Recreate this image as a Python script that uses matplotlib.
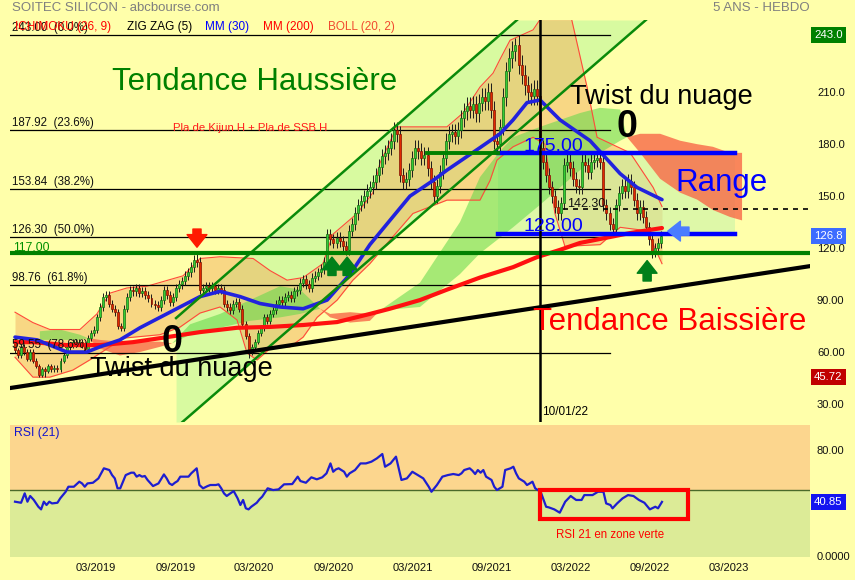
import numpy as np
import matplotlib
matplotlib.use('Agg')
import matplotlib.pyplot as plt
import matplotlib.dates as mdates
from matplotlib.patches import Rectangle
import datetime as dt

plt.rcParams['font.family'] = ['Liberation Sans', 'DejaVu Sans']

# ---------------- data (weekly, week 0 = 2018-09-17) ----------------
start_date = dt.date(2018, 9, 17)
first_open = 66.0
closes = [61, 58, 63, 60, 56, 60, 55, 52, 47, 50,
          49, 52, 50, 51, 50, 55, 58, 63, 64, 66,
          65, 66, 64, 62, 68, 71, 73, 80, 86, 92,
          93, 88, 85, 83, 75, 74, 85, 92, 96, 95,
          97, 94, 95, 93, 91, 88, 87, 86, 90, 96,
          93, 89, 92, 97, 99, 101, 104, 106, 109, 113,
          112, 96, 97, 98, 97, 98, 96, 97, 96, 88,
          86, 84, 88, 89, 85, 76, 69, 60, 63, 66,
          71, 74, 80, 78, 82, 84, 88, 90, 89, 92,
          93, 91, 95, 96, 100, 102, 99, 97, 103, 104,
          106, 108, 112, 128, 125, 123, 126, 124, 121, 119,
          130, 134, 140, 145, 147, 150, 153, 155, 158, 162,
          167, 173, 175, 178, 182, 188, 186, 162, 158, 160,
          165, 172, 178, 176, 172, 174, 166, 158, 150, 156,
          164, 172, 182, 186, 187, 185, 188, 195, 199, 202,
          200, 203, 198, 204, 207, 205, 210, 200, 182, 180,
          190, 207, 222, 230, 234, 237, 226, 220, 214, 210,
          208, 212, 208, 178, 170, 162, 155, 150, 144, 140,
          146, 168, 170, 166, 160, 156, 155, 170, 168, 164,
          170, 171, 172, 170, 145, 140, 134, 131, 145, 152,
          156, 153, 159, 155, 148, 140, 144, 138, 132, 125,
          118, 120, 123, 126.8]
extreme_weeks = [10, 60, 77, 165, 210]
extreme_prices = [45.72, 116.5, 56.5, 241.5, 114.0]

mm30_weeks = [0, 7.3, 11.5, 17.1, 23.7, 28.0, 34.6, 41.2, 47.8, 54.4, 61.0, 67.6,
              74.2, 80.8, 87.4, 95.0, 102.9, 110.5, 117.0, 123.6, 130.2, 137.8,
              142.4, 153.3, 159.9, 164.2, 168.8, 173.1, 179.7, 189.6, 199.5, 205.1, 213.3]
mm30_vals = [68.6, 67, 64, 60, 60, 63, 67, 74, 80, 86, 92, 95,
             92, 88, 86, 85, 90, 105, 122, 136, 150, 159,
             165, 178, 186, 194, 204, 205.5, 194, 182, 163, 155, 148]

mm200_weeks = [0, 5.9, 17.1, 28.0, 38.9, 50.1, 61.0, 73.2, 84.1, 95.0, 106.2, 117.0,
               123.6, 133.5, 142.4, 153.3, 164.2, 172.1, 179.7, 186.3, 202.8, 213.3]
mm200_vals = [65.7, 65.7, 64, 64, 65.7, 68.6, 71.5, 74, 74.5, 75.6, 77.3, 82,
              85, 90, 96, 103, 109, 114.8, 119, 123, 128.7, 131.6]

boll_up_weeks = [0, 5.9, 11.5, 21.4, 27.0, 31.3, 36.9, 43.5, 55.4, 61.0, 67.6, 78.5,
                 84.1, 89.7, 95.0, 101.5, 104.8, 112.8, 118.0, 120.3, 125.9, 142.4,
                 147.7, 153.3, 157.6, 159.9, 163.2, 170.8, 175.4, 183.0, 188.6, 191.9,
                 202.8, 210.4, 213.3]
boll_up_vals = [83, 77, 73, 73, 82, 94, 97, 98, 104, 114, 115, 114,
                107, 101.5, 103, 111, 128, 140, 152, 169, 190, 190,
                198, 213, 221, 229, 240, 246, 258, 256, 213, 184,
                175, 155, 144]
boll_lo_weeks = [0, 5.9, 11.5, 19.1, 24.7, 31.3, 35.6, 47.8, 54.4, 61.0, 67.6, 73.2,
                 76.5, 79.8, 84.1, 90.7, 95.0, 99.6, 106.2, 111.4, 117.0, 123.6,
                 131.2, 142.4, 153.3, 156.6, 158.9, 164.2, 170.8, 174.7, 178.0, 181.3,
                 192.9, 199.5, 208.4, 213.3]
boll_lo_vals = [57, 45.5, 45.5, 49.6, 55.5, 63, 68, 70, 74.4, 82.5, 86, 78.5,
                59.4, 55.4, 62, 63, 68.6, 80, 90, 101.5, 111, 124.6,
                140, 147.7, 147.7, 159, 170.8, 178.5, 184, 180, 140, 121,
                122, 132, 130, 111]

cloud_weeks = [8.2, 14.8, 21.4, 24.1, 28.0, 34.6, 41.2, 47.8, 51.8, 57.7, 67.6, 77.5,
               87.4, 94.0, 100.6, 103.9, 110.5, 117.0, 120.3, 133.5, 146.7, 153.3,
               159.9, 164.2, 173.1, 186.3, 192.9, 199.5, 201.8, 206.1, 212.7, 219.3,
               224.9, 230.1, 235.7, 239.7]
span_a = [72, 73, 70, 68, 62, 58, 60, 63, 65, 76, 82, 90,
          98, 96, 85, 80, 77, 78, 84, 100, 135, 161,
          176, 184, 190, 198, 201, 200, 184, 175, 160, 152,
          148, 142, 138, 136]
span_b = [67, 67, 67, 68, 67, 66, 66, 66, 65, 70, 74, 78,
          80, 82, 85, 82, 83, 82, 84, 86, 105, 117,
          126, 132, 145, 165, 175, 182, 184, 186, 186, 182,
          180, 178.5, 175, 175]

rsi_weeks = [0, 2, 3.2, 4.1, 5, 6.2, 7.7, 8.6, 9.5, 10.4, 11.3, 12.2, 14, 14.9, 16.7, 17.6,
             19.4, 21.2, 22.1, 23, 23.9, 25.7, 27.5, 29.3, 31.1, 32, 32.9, 33.8, 34.7, 36.5,
             38.3, 39.2, 40.1, 41, 41.9, 42.8, 43.7, 45.5, 47.3, 49.1, 50, 50.9, 51.8, 52.7,
             53.6, 54.5, 56.3, 57.2, 58.1, 59.9, 60.8, 62, 63.5, 64.4, 66.2, 67.1, 68, 68.9,
             69.8, 70.7, 72.1, 73.4, 74.3, 75.2, 76.1, 77, 77.9, 79.7, 80.6, 81.5, 83.3, 85.1,
             86.9, 88.7, 91.4, 93.2, 94.1, 95.9, 97.7, 99.5, 101.3, 102.7, 104, 104.9, 105.8,
             106.7, 108.5, 109.4, 110.3, 112.1, 113.9, 115.7, 117.5, 119.3, 121.1, 122,
             123.8, 125.6, 127.4, 129.2, 131, 132.8, 134.6, 136.4, 137.3, 139.1, 140.9,
             142.7, 144.5, 146.3, 147.2, 148.1, 149.9, 150.8, 151.7, 152.6, 153.5, 154.4,
             155.3, 157.1, 158, 158.9, 160.7, 161.6, 163.4, 164.3, 165.2, 166.1, 167.9,
             168.8, 169.7, 170.6, 171.5, 172.4, 173.3, 175.1, 176, 177.8, 179.6, 181.4,
             183.2, 185, 186.8, 187.7, 188.6, 190.4, 192.2, 194, 194.9, 196.3, 197, 198.5,
             200.3, 202.1, 203.9, 205.7, 207.5, 209.3, 211.1, 212, 213.3]
rsi_vals = [41.0, 40.2, 47.3, 41.0, 45.3, 42.3, 37.2, 35.2, 41.0, 38.5, 41.0, 39.7, 40.2, 43.5,
            48.5, 52.3, 52.3, 56.1, 54.8, 52.3, 54.8, 55.3, 58.6, 66.2, 64.9, 61.1, 58.6, 51.1,
            51.1, 61.1, 62.9, 62.9, 59.9, 61.1, 59.9, 60.4, 57.4, 52.8, 54.8, 61.6, 58.6, 54.8,
            53.6, 55.3, 56.6, 59.9, 59.9, 59.9, 62.4, 66.2, 53.6, 51.1, 52.8, 53.6, 53.6, 54.1,
            51.1, 47.3, 45.3, 46.8, 49.0, 43.5, 38.5, 42.3, 36.0, 35.2, 37.2, 40.2, 42.8, 44.8,
            51.1, 49.8, 50.3, 54.1, 54.3, 59.9, 56.6, 55.3, 59.4, 57.9, 59.4, 62.4, 69.9, 63.6,
            65.4, 66.2, 63.6, 59.9, 62.4, 64.9, 69.9, 69.9, 71.2, 73.7, 77.0, 67.4, 69.9, 75.0,
            57.4, 58.6, 63.6, 61.1, 58.6, 52.3, 48.5, 53.6, 59.9, 61.1, 61.9, 61.1, 62.4, 64.9,
            66.2, 64.4, 61.9, 64.9, 62.9, 64.9, 59.9, 57.4, 52.3, 49.8, 52.3, 64.9, 66.2, 67.4,
            62.4, 58.6, 56.1, 53.6, 54.8, 56.1, 51.1, 49.8, 48.5, 37.2, 36.7, 35.2, 32.7, 41.0,
            45.3, 42.3, 42.3, 46.0, 46.0, 46.0, 48.5, 48.5, 39.7, 38.5, 36.0, 39.7, 43.5, 46.0,
            45.3, 42.3, 40.2, 35.2, 37.2, 36.0, 40.85]

fib_levels = [243.00, 187.92, 153.84, 126.30, 98.76, 59.55]
fib_pcts = ['0.0%', '23.6%', '38.2%', '50.0%', '61.8%', '78.6%']
fib_span_weeks = [-1.65, 196.2]

channel_up_weeks = [53.1, 165.5]
channel_up_prices = [79.6, 251.7]
channel_lo_weeks = [55.2, 208.0]
channel_lo_prices = [19.6, 251.7]
support_weeks = [-1.65, 262.1]
support_prices = [39.2, 109.6]

level_117 = 117.0
range_top, range_bot = 175.0, 128.0
range_weeks = [159.2, 237.4]
green175_weeks = [135.8, 159.2]
level_142 = 142.30
level_142_weeks = [180.7, 262.1]
vline_date = dt.date(2022, 1, 10)

last_price = 126.8
low_price = 45.72
high_price = 243.0
rsi_last = 40.85

tick_months = [(2019, 3), (2019, 9), (2020, 3), (2020, 9), (2021, 3), (2021, 9),
               (2022, 3), (2022, 9), (2023, 3)]

# ---------------- helpers ----------------
d0 = mdates.date2num(start_date)
def X(w):
    return d0 + 7.0 * np.asarray(w, dtype=float)

BG = '#FFFFAA'
fig = plt.figure(figsize=(8.55, 5.80), dpi=100, facecolor=BG)
W, H = 855.0, 580.0
ax = fig.add_axes([10 / W, 1 - 422 / H, 800 / W, 402 / H])
ax.set_facecolor(BG)
ymin, ymax = 19.6, 251.7
xmin, xmax = X(-1.65), X(262.1)
ax.set_xlim(xmin, xmax)
ax.set_ylim(ymin, ymax)
for s in ax.spines.values():
    s.set_visible(False)

# trend channel fill
ws = np.linspace(channel_up_weeks[0], channel_lo_weeks[1], 400)
slope_u = (channel_up_prices[1] - channel_up_prices[0]) / (channel_up_weeks[1] - channel_up_weeks[0])
up_line = channel_up_prices[0] + slope_u * (ws - channel_up_weeks[0])
slope_l = (channel_lo_prices[1] - channel_lo_prices[0]) / (channel_lo_weeks[1] - channel_lo_weeks[0])
lo_line = channel_lo_prices[0] + slope_l * (ws - channel_lo_weeks[0])
ax.fill_between(X(ws), np.clip(lo_line, ymin, ymax), np.clip(up_line, ymin, ymax),
                color='#D8FAA0', lw=0, zorder=1)

# Bollinger
bw = np.union1d(boll_up_weeks, boll_lo_weeks)
bu = np.interp(bw, boll_up_weeks, boll_up_vals)
bl = np.interp(bw, boll_lo_weeks, boll_lo_vals)
ax.fill_between(X(bw), bl, bu, color='#F2B060', alpha=0.5, lw=0, zorder=2)
ax.plot(X(boll_up_weeks), boll_up_vals, color='#FF4A3A', lw=0.8, zorder=4)
ax.plot(X(boll_lo_weeks), boll_lo_vals, color='#FF4A3A', lw=0.8, zorder=4)

# range box (under the cloud)
ax.add_patch(Rectangle((X(range_weeks[0]), range_bot), X(range_weeks[1]) - X(range_weeks[0]),
                       range_top - range_bot, facecolor='#C4F4A8', alpha=0.55, lw=0, zorder=2.5))

# Ichimoku cloud
ca = np.array(span_a, float)
cb = np.array(span_b, float)
ax.fill_between(X(cloud_weeks), ca, cb, where=ca >= cb, interpolate=True,
                color='#5ED84A', alpha=0.55, lw=0, zorder=3)
ax.fill_between(X(cloud_weeks), ca, cb, where=ca <= cb, interpolate=True,
                color='#F86848', alpha=0.8, lw=0, zorder=3)

# Fibonacci lines
for lv, pc in zip(fib_levels, fib_pcts):
    ax.plot(X(fib_span_weeks), [lv, lv], color='black', lw=0.9, zorder=4)
    ax.annotate(f'{lv:.2f}  ({pc})', xy=(X(-1.0), lv), xytext=(0, 1), textcoords='offset points',
                ha='left', va='bottom', fontsize=8.3, color='#111111', zorder=9)

# candles
c = np.array(closes, float)
o = np.r_[first_open, c[:-1]]
n = len(c)
xw = X(np.arange(n))
top = np.maximum(o, c)
bot = np.minimum(o, c)
highs = top + 0.025 * top
lows = bot - 0.025 * bot
for w, p in zip(extreme_weeks, extreme_prices):
    if p > top[w]:
        highs[w] = p
    else:
        lows[w] = p
up = c >= o
ax.vlines(xw, lows, highs, color='#1A1A1A', lw=0.7, zorder=5)
hgt = np.maximum(top - bot, 0.8)
ax.bar(xw[up], hgt[up], bottom=bot[up], width=4.6, color='#35CC35', edgecolor='#137013',
       lw=0.5, zorder=5.5)
ax.bar(xw[~up], hgt[~up], bottom=bot[~up], width=4.6, color='#E02A00', edgecolor='#801000',
       lw=0.5, zorder=5.5)

# moving averages
ax.plot(X(mm200_weeks), mm200_vals, color='#FF1010', lw=3, zorder=6, solid_capstyle='round')
ax.plot(X(mm30_weeks), mm30_vals, color='#2222DD', lw=2.6, zorder=6.2, solid_capstyle='round')

# channel lines / support
ax.plot(X(channel_up_weeks), channel_up_prices, color='#0A8A0A', lw=1.8, zorder=6.5)
ax.plot(X(channel_lo_weeks), channel_lo_prices, color='#0A8A0A', lw=1.8, zorder=6.5)
ax.plot(X(support_weeks), support_prices, color='black', lw=3, zorder=6.5)

# horizontal levels
ax.axhline(level_117, color='#008000', lw=3, zorder=6.6)
ax.plot(X(range_weeks), [range_top] * 2, color='#0000FF', lw=3.2, zorder=6.6)
ax.plot(X(range_weeks), [range_bot] * 2, color='#0000FF', lw=3.2, zorder=6.6)
ax.plot(X(green175_weeks), [range_top] * 2, color='#008000', lw=2.8, zorder=6.6)
ax.plot(X(level_142_weeks), [level_142] * 2, color='black', lw=1.2, ls=(0, (3, 3)), zorder=6.6)
ax.axvline(mdates.date2num(vline_date), color='black', lw=1.8, zorder=6.7)

# arrows
def arrow(x0, y0, x1, y1, col):
    ax.annotate('', xy=(x1, y1), xytext=(x0, y0), zorder=8,
                arrowprops=dict(arrowstyle='simple,head_length=0.7,head_width=1.1,tail_width=0.45',
                                fc=col, ec=col, mutation_scale=13, shrinkA=0, shrinkB=0))
arrow(X(60), 131, X(60), 120.5, '#FF1A00')
arrow(X(104.5), 104.2, X(104.5), 114.8, '#00801A')
arrow(X(109.5), 104.2, X(109.5), 114.8, '#00801A')
arrow(X(208.4), 101.0, X(208.4), 112.8, '#00801A')
arrow(X(222.2), 129.8, X(215.2), 129.8, '#4A7CFF')

# texts on main panel
ax.text(X(32.0), 215.9, 'Tendance Haussière', color='#008000', fontsize=22.5, va='center', ha='left', zorder=10)
ax.text(X(170.8), 77.3, 'Tendance Baissière', color='#FF0000', fontsize=22.5, va='center', ha='left', zorder=10)
ax.text(X(217.6), 157.5, 'Range', color='#0000FF', fontsize=22.5, va='center', ha='left', zorder=10)
ax.text(X(183.0), 207.0, 'Twist du nuage', color='black', fontsize=19.5, va='center', ha='left', zorder=10)
ax.text(X(24.7), 50.2, 'Twist du nuage', color='black', fontsize=19.5, va='center', ha='left', zorder=10)
ax.text(X(201.8), 190.0, '0', color='black', fontsize=27, fontweight='bold', va='center', ha='center', zorder=10)
ax.text(X(51.8), 65.7, '0', color='black', fontsize=27, fontweight='bold', va='center', ha='center', zorder=10)
ax.text(X(52.1), 189.3, 'Pla de Kijun H + Pla de SSB H', color='#FF1A1A', fontsize=8.2, va='center', ha='left', zorder=10)
ax.text(X(167.5), 178.9, '175.00', color='#0000FF', fontsize=14, va='center', ha='left', zorder=10)
ax.text(X(167.5), 132.7, '128.00', color='#0000FF', fontsize=14, va='center', ha='left', zorder=10)
ax.text(X(182.0), 145.4, '142.30', color='#111111', fontsize=9, va='center', ha='left', zorder=10)
ax.text(X(-0.66), 120.3, '117.00', color='#009000', fontsize=8.8, va='center', ha='left', zorder=10)
ax.text(X(173.7), 25.3, '10/01/22', color='black', fontsize=8.5, va='center', ha='left', zorder=10)

# right axis labels
ax.yaxis.tick_right()
yt = [30, 60, 90, 120, 150, 180, 210]
ax.set_yticks(yt)
ax.set_yticklabels(['30.00', '60.00', '90.00', '120.0', '150.0', '180.0', '210.0'])
ax.tick_params(axis='y', length=0, pad=5, labelsize=8, labelcolor='#111111')
ax.set_xticks([])

def tag(axis, val, txt, col, fs=8.2):
    axis.annotate(txt, xy=(1.0, val), xycoords=('axes fraction', 'data'), xytext=(3, 0),
                  textcoords='offset points', ha='left', va='center', color='white', fontsize=fs,
                  zorder=12, annotation_clip=False,
                  bbox=dict(boxstyle='square,pad=0.25', fc=col, ec='none'))
tag(ax, high_price, f'{high_price:.1f}', '#008000')
tag(ax, last_price, f'{last_price:.1f}', '#3C6CFF')
tag(ax, low_price, f'{low_price:.2f}', '#C00000')

# header
fig.text(12 / W, 1 - 8 / H, 'SOITEC SILICON - abcbourse.com', color='#7F7F7F', fontsize=9.5, va='center', ha='left')
fig.text(810 / W, 1 - 8 / H, '5 ANS - HEBDO', color='#7F7F7F', fontsize=9.5, va='center', ha='right')
legend_items = [('ICHIMOKU (26, 9)', '#FF0000', 15), ('ZIG ZAG (5)', '#000000', 127),
                ('MM (30)', '#0000FF', 205), ('MM (200)', '#FF0000', 263), ('BOLL (20, 2)', '#F04A30', 328)]
for txt, col, px in legend_items:
    fig.text(px / W, 1 - 27 / H, txt, color=col, fontsize=8.5, va='center', ha='left')

# ---------------- RSI panel ----------------
ar = fig.add_axes([10 / W, 1 - 557 / H, 800 / W, 132 / H])
ar.set_xlim(xmin, xmax)
ar.set_ylim(-0.75, 98.9)
ar.axhspan(50, 100, color='#FCD68E', lw=0, zorder=0)
ar.axhspan(-5, 50, color='#DCEB97', lw=0, zorder=0)
ar.axhline(50, color='#4A6A2A', lw=1, zorder=1)
for s in ar.spines.values():
    s.set_visible(False)
ar.plot(X(rsi_weeks), rsi_vals, color='#1E1ED0', lw=1.6, zorder=3)
ar.add_patch(Rectangle((X(173.1), 27.9), X(221.9) - X(173.1), 50 - 27.9, fill=False,
                       ec='#FF0000', lw=3, zorder=4))
ar.text(X(178.4), 15.8, 'RSI 21 en zone verte', color='#FF0000', fontsize=8.3, va='center', ha='left')
ar.text(4 / 800, 1 - 8 / 132, 'RSI (21)', transform=ar.transAxes, color='#1515CC', fontsize=8.8,
        va='center', ha='left')
ar.yaxis.tick_right()
ar.set_yticks([0, 80])
ar.set_yticklabels(['0.0000', '80.00'])
ar.tick_params(axis='y', length=0, pad=5, labelsize=8, labelcolor='#111111')
tag(ar, rsi_last, f'{rsi_last:.2f}', '#1414F0')

tick_pos = [mdates.date2num(dt.date(y, m, 22)) for y, m in tick_months]
ar.set_xticks(tick_pos)
ar.set_xticklabels([f'{m:02d}/{y}' for y, m in tick_months])
ar.tick_params(axis='x', length=0, pad=4, labelsize=8, labelcolor='#111111')

fig.savefig('out.png', dpi=100, facecolor=BG)
